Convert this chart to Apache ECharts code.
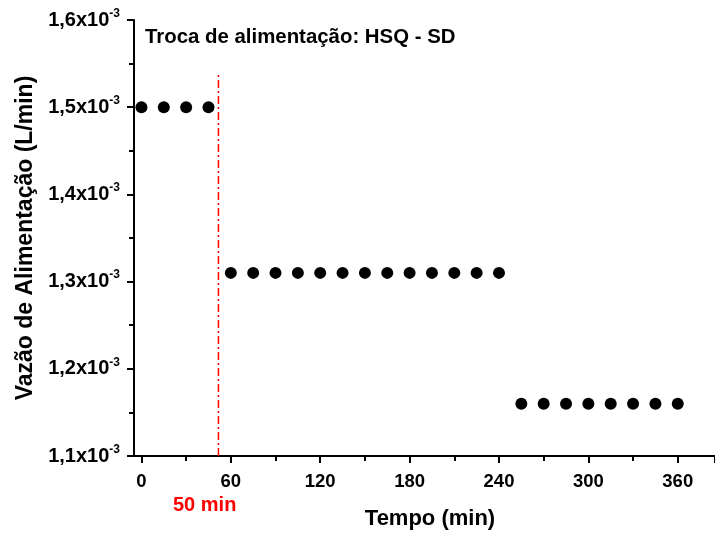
<!DOCTYPE html>
<html><head><meta charset="utf-8">
<script src="https://cdn.jsdelivr.net/npm/echarts@6/dist/echarts.min.js"></script>
<style>html,body{margin:0;padding:0;background:#fff}#c{width:715px;height:535px}</style>
</head><body><div id="c"></div>
<script>
// Values in units of 10^-3 L/min
const timeA = [0, 15, 30, 45];
const flowA = [1.5, 1.5, 1.5, 1.5];
const timeB = [60, 75, 90, 105, 120, 135, 150, 165, 180, 195, 210, 225, 240];
const flowB = [1.31, 1.31, 1.31, 1.31, 1.31, 1.31, 1.31, 1.31, 1.31, 1.31, 1.31, 1.31, 1.31];
const timeC = [255, 270, 285, 300, 315, 330, 345, 360];
const flowC = [1.16, 1.16, 1.16, 1.16, 1.16, 1.16, 1.16, 1.16];
const switchTime = [51.7, 51.7];
const switchFlow = [1.1, 1.54];

const pts = (xs, ys) => xs.map((x, i) => [x, ys[i]]);
const F = 'Liberation Sans, Arial, sans-serif';
const chart = echarts.init(document.getElementById('c'));
const pointSeries = (xs, ys) => ({
  type: 'scatter', data: pts(xs, ys), symbol: 'circle', symbolSize: 12,
  itemStyle: { color: '#000', opacity: 1 }, silent: true
});
// axis range: plot spans -5..385 min; tick axis starts at 0 with same scale
const X_MIN = -5, X_MAX = 385, GRID_LEFT = 134, GRID_W = 715 - GRID_LEFT;
const pxPerUnit = GRID_W / (X_MAX - X_MIN);
const tickLeft = GRID_LEFT + (0 - X_MIN) * pxPerUnit;
const tickMax = (715 - tickLeft) / pxPerUnit;
chart.setOption({
  animation: false,
  grid: [
    { left: GRID_LEFT, top: 20, right: 0, bottom: 78, containLabel: false },
    { left: tickLeft, top: 20, right: 0, bottom: 78, containLabel: false }
  ],
  title: [
    { text: 'Troca de alimentação: HSQ - SD', left: 145, top: 27, padding: 0,
      textStyle: { fontFamily: F, fontWeight: 'bold', fontSize: 20.4, color: '#000' } },
    { text: '50 min', left: 173, top: 495, padding: 0,
      textStyle: { fontFamily: F, fontWeight: 'bold', fontSize: 20, color: '#ff0000' } }
  ],
  xAxis: [{
    gridIndex: 0, type: 'value', min: X_MIN, max: X_MAX,
    name: 'Tempo (min)', nameLocation: 'middle', nameGap: 52,
    nameTextStyle: { fontFamily: F, fontWeight: 'bold', fontSize: 22, color: '#000', padding: [0, 0, 0, 11] },
    axisLine: { onZero: false, lineStyle: { color: '#000', width: 2 } },
    axisTick: { show: false }, axisLabel: { show: false }, splitLine: { show: false }
  }, {
    gridIndex: 1, type: 'value', min: 0, max: tickMax, interval: 60,
    axisLine: { show: false },
    axisTick: { show: true, inside: false, length: 6, lineStyle: { color: '#000', width: 2 } },
    minorTick: { show: true, splitNumber: 2, length: 4, lineStyle: { color: '#000', width: 2 } },
    splitLine: { show: false },
    axisLabel: { fontFamily: F, fontWeight: 'bold', fontSize: 18.5, color: '#000', margin: 15,
      showMaxLabel: false }
  }],
  yAxis: [{
    gridIndex: 0, type: 'value', min: 1.1, max: 1.6, interval: 0.1,
    name: 'Vazão de Alimentação (L/min)', nameLocation: 'middle', nameGap: 97, nameRotate: 90,
    nameTextStyle: { fontFamily: F, fontWeight: 'bold', fontSize: 23, color: '#000' },
    axisLine: { onZero: false, lineStyle: { color: '#000', width: 2 } },
    axisTick: { show: true, inside: false, length: 7, lineStyle: { color: '#000', width: 2 } },
    minorTick: { show: true, splitNumber: 2, length: 5, lineStyle: { color: '#000', width: 2 } },
    splitLine: { show: false },
    axisLabel: {
      margin: 14,
      formatter: v => '{a|' + v.toFixed(1).replace('.', ',') + 'x10}{b|-3}',
      rich: {
        a: { fontFamily: F, fontWeight: 'bold', fontSize: 20, color: '#000' },
        b: { fontFamily: F, fontWeight: 'bold', fontSize: 12, color: '#000', padding: [0, 0, 13, 0] }
      }
    }
  }, {
    gridIndex: 1, type: 'value', min: 1.1, max: 1.6, show: false
  }],
  series: [
    pointSeries(timeA, flowA),
    pointSeries(timeB, flowB),
    pointSeries(timeC, flowC),
    { type: 'line', data: pts(switchTime, switchFlow), symbol: 'none', silent: true,
      lineStyle: { color: '#ff0000', width: 1.5, type: [8, 3, 2, 3] } }
  ]
});
</script></body></html>
